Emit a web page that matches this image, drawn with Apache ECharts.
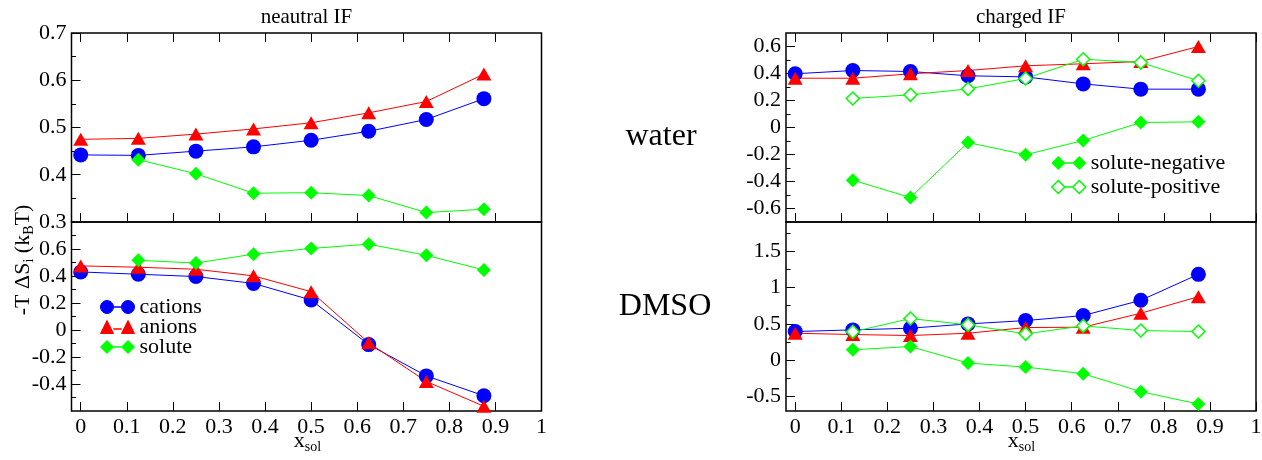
<!DOCTYPE html>
<html>
<head>
<meta charset="utf-8">
<script src="https://cdn.jsdelivr.net/npm/echarts@6/dist/echarts.min.js"></script>
<style>
html, body { margin: 0; padding: 0; background: #fff; }
#main { width: 1262px; height: 460px; }
</style>
</head>
<body>
<div id="main"></div>
<script>
// mole fraction of solute
var xSol = [0, 0.125, 0.25, 0.375, 0.5, 0.625, 0.75, 0.875];

// neutral IF, water
var nwCations = [0.442, 0.441, 0.450, 0.459, 0.473, 0.492, 0.517, 0.561];
var nwAnions  = [0.475, 0.477, 0.486, 0.497, 0.510, 0.531, 0.555, 0.613];
var nwSolute  = [null, 0.432, 0.402, 0.361, 0.362, 0.356, 0.320, 0.327];

// neutral IF, DMSO
var ndCations = [0.430, 0.413, 0.396, 0.345, 0.222, -0.108, -0.340, -0.487];
var ndAnions  = [0.475, 0.465, 0.450, 0.401, 0.284, -0.095, -0.381, -0.565];
var ndSolute  = [null, 0.516, 0.496, 0.562, 0.604, 0.636, 0.553, 0.445];

// charged IF, water
var cwCations = [0.398, 0.422, 0.415, 0.383, 0.375, 0.323, 0.284, 0.284];
var cwAnions  = [0.365, 0.365, 0.398, 0.422, 0.457, 0.472, 0.489, 0.600];
var cwNeg     = [null, -0.390, -0.519, -0.111, -0.202, -0.096, 0.037, 0.042];
var cwPos     = [null, 0.215, 0.242, 0.286, 0.363, 0.506, 0.481, 0.346];

// charged IF, DMSO
var cdCations = [0.393, 0.416, 0.439, 0.498, 0.544, 0.613, 0.823, 1.180];
var cdAnions  = [0.370, 0.352, 0.338, 0.370, 0.448, 0.453, 0.645, 0.873];
var cdNeg     = [null, 0.142, 0.187, -0.041, -0.096, -0.187, -0.434, -0.604];
var cdPos     = [null, 0.389, 0.572, 0.485, 0.361, 0.471, 0.407, 0.393];

// ticks
var xTicks = [0, 0.1, 0.2, 0.3, 0.4, 0.5, 0.6, 0.7, 0.8, 0.9, 1];
var tlMajor = [0.3, 0.4, 0.5, 0.6, 0.7];
var tlMinor = [0.35, 0.45, 0.55, 0.65];
var blMajor = [-0.4, -0.2, 0, 0.2, 0.4, 0.6];
var blMinor = [-0.5, -0.3, -0.1, 0.1, 0.3, 0.5, 0.7];
var trMajor = [-0.6, -0.4, -0.2, 0, 0.2, 0.4, 0.6];
var trMinor = [-0.5, -0.3, -0.1, 0.1, 0.3, 0.5];
var brMajor = [-0.5, 0, 0.5, 1, 1.5];
var brMinor = [-0.25, 0.25, 0.75, 1.25, 1.75];

var FONT = '"Liberation Serif", "Times New Roman", "DejaVu Serif", serif';
var BLUE = '#0000ff', RED = '#ff0000', GREEN = '#00ff00';

function fmt(v) { return String(+(+v).toFixed(2)); }

var grids = [
    {left: 71.5, top: 33, width: 470, height: 189},
    {left: 71.5, top: 222, width: 470, height: 189},
    {left: 786, top: 33, width: 470, height: 189},
    {left: 786, top: 222, width: 470, height: 189}
].map(function (g) {
    g.show = true;
    g.borderColor = '#000';
    g.borderWidth = 1.5;
    g.backgroundColor = 'transparent';
    g.outerBoundsMode = 'none';
    return g;
});

function xAxis(grid, pos, labels) {
    return {
        type: 'value', gridIndex: grid, position: pos, min: -0.02, max: 1,
        axisLine: {show: false, onZero: false},
        splitLine: {show: false},
        axisTick: {inside: true, length: 9, customValues: xTicks, lineStyle: {color: '#000', width: 1}},
        axisLabel: {show: labels, customValues: xTicks, formatter: fmt, margin: 5,
            fontFamily: FONT, fontSize: 22, color: '#000'}
    };
}
function yAxes(grid, min, max, major, minor) {
    return [{
        type: 'value', gridIndex: grid, position: 'left', min: min, max: max,
        axisLine: {show: false, onZero: false},
        splitLine: {show: false},
        axisTick: {inside: true, length: 9, customValues: major, lineStyle: {color: '#000', width: 1}},
        axisLabel: {customValues: major, formatter: fmt, margin: 5,
            fontFamily: FONT, fontSize: 22, color: '#000'}
    }, {
        type: 'value', gridIndex: grid, position: 'left', min: min, max: max,
        axisLine: {show: false, onZero: false},
        splitLine: {show: false},
        axisTick: {inside: true, length: 4.5, customValues: minor, lineStyle: {color: '#000', width: 1}},
        axisLabel: {show: false}
    }];
}

var xAxes = [
    xAxis(0, 'bottom', false), xAxis(0, 'top', false),
    xAxis(1, 'bottom', true),
    xAxis(2, 'bottom', false), xAxis(2, 'top', false),
    xAxis(3, 'bottom', true)
];
var xMain = [0, 2, 3, 5];
var yAx = [].concat(
    yAxes(0, 0.3, 0.7, tlMajor, tlMinor),
    yAxes(1, -0.6, 0.8, blMajor, blMinor),
    yAxes(2, -0.7, 0.7, trMajor, trMinor),
    yAxes(3, -0.7, 1.9, brMajor, brMinor)
);

function pts(ys) {
    return xSol.map(function (x, i) { return [x, ys[i]]; })
        .filter(function (p) { return p[1] !== null; });
}
function line(name, ys, g, sym, size, color, hollow) {
    return {
        name: name, type: 'line', xAxisIndex: xMain[g], yAxisIndex: 2 * g,
        data: pts(ys), symbol: sym, symbolSize: size, showAllSymbol: true,
        lineStyle: {color: color, width: 1},
        itemStyle: hollow ? {color: '#fff', borderColor: color, borderWidth: 1.5}
                          : {color: color, borderWidth: 0},
        emphasis: {disabled: true},
        animation: false
    };
}

var CIRC = 15, TRI = [15, 13], DIA = 14;
var series = [
    line('cations', nwCations, 0, 'circle', CIRC, BLUE),
    line('anions', nwAnions, 0, 'triangle', TRI, RED),
    line('solute', nwSolute, 0, 'diamond', DIA, GREEN),
    line('cations', ndCations, 1, 'circle', CIRC, BLUE),
    line('anions', ndAnions, 1, 'triangle', TRI, RED),
    line('solute', ndSolute, 1, 'diamond', DIA, GREEN),
    line('cations', cwCations, 2, 'circle', CIRC, BLUE),
    line('anions', cwAnions, 2, 'triangle', TRI, RED),
    line('solute-negative', cwNeg, 2, 'diamond', DIA, GREEN),
    line('solute-positive', cwPos, 2, 'diamond', 13, GREEN, true),
    line('cations', cdCations, 3, 'circle', CIRC, BLUE),
    line('anions', cdAnions, 3, 'triangle', TRI, RED),
    line('solute-negative', cdNeg, 3, 'diamond', DIA, GREEN),
    line('solute-positive', cdPos, 3, 'diamond', 13, GREEN, true)
];

// legend icons: two symbols joined by a short line
var circlePair = 'path://M0,6.5A6.5,6.5 0 1,1 13,6.5A6.5,6.5 0 1,1 0,6.5Z M13,6.4L21,6.4L21,6.6L13,6.6Z M21,6.5A6.5,6.5 0 1,1 34,6.5A6.5,6.5 0 1,1 21,6.5Z';
var trianglePair = 'path://M0,13L6.5,0L13,13Z M13,8.4L21,8.4L21,8.6L13,8.6Z M21,13L27.5,0L34,13Z';
var diamondPair = 'path://M0,6.5L6.5,0L13,6.5L6.5,13Z M13,6.4L21,6.4L21,6.6L13,6.6Z M21,6.5L27.5,0L34,6.5L27.5,13Z';

function legendItem(name, icon, color, hollow) {
    return {
        name: name, icon: icon,
        itemStyle: hollow ? {color: '#fff', borderColor: color, borderWidth: 1.5}
                          : {color: color, borderColor: color, borderWidth: 1}
    };
}
var legendText = {fontFamily: FONT, fontSize: 22, color: '#000'};

var option = {
    backgroundColor: '#fff',
    animation: false,
    grid: grids,
    xAxis: xAxes,
    yAxis: yAx,
    legend: [{
        left: 100, top: 296, orient: 'vertical', padding: 0,
        itemWidth: 34, itemHeight: 13, itemGap: -2, selectedMode: false,
        textStyle: legendText,
        data: [
            legendItem('cations', circlePair, BLUE),
            legendItem('anions', trianglePair, RED),
            legendItem('solute', diamondPair, GREEN)
        ]
    }, {
        left: 1051, top: 152, orient: 'vertical', padding: 0,
        itemWidth: 34, itemHeight: 13, itemGap: 2, selectedMode: false,
        textStyle: legendText,
        data: [
            legendItem('solute-negative', diamondPair, GREEN),
            legendItem('solute-positive', diamondPair, GREEN, true)
        ]
    }],
    graphic: [
        {type: 'text', x: 306.5, y: 17, style: {text: 'neautral IF', fontFamily: FONT, fontSize: 21, fill: '#000', align: 'center', verticalAlign: 'middle'}},
        {type: 'text', x: 1021, y: 17, style: {text: 'charged IF', fontFamily: FONT, fontSize: 21, fill: '#000', align: 'center', verticalAlign: 'middle'}},
        {type: 'text', x: 661, y: 137, style: {text: 'water', fontFamily: FONT, fontSize: 32, fill: '#000', align: 'center', verticalAlign: 'middle'}},
        {type: 'text', x: 665, y: 307, style: {text: 'DMSO', fontFamily: FONT, fontSize: 32, fill: '#000', align: 'center', verticalAlign: 'middle'}},
        {type: 'text', x: 23, y: 260, rotation: Math.PI / 2,
            style: {text: '-T ΔS{s|i} (k{s|B}T)', fontFamily: FONT, fontSize: 22, fill: '#000', align: 'center', verticalAlign: 'middle',
                rich: {s: {fontFamily: FONT, fontSize: 14, padding: [12, 0, 0, 0]}}}},
        {type: 'text', x: 307.5, y: 441, style: {text: 'x{s|sol}', fontFamily: FONT, fontSize: 22, fill: '#000', align: 'center', verticalAlign: 'middle',
            rich: {s: {fontFamily: FONT, fontSize: 14, padding: [12, 0, 0, 0]}}}},
        {type: 'text', x: 1021.5, y: 441, style: {text: 'x{s|sol}', fontFamily: FONT, fontSize: 22, fill: '#000', align: 'center', verticalAlign: 'middle',
            rich: {s: {fontFamily: FONT, fontSize: 14, padding: [12, 0, 0, 0]}}}}
    ],
    series: series
};

var chart = echarts.init(document.getElementById('main'));
chart.setOption(option);
</script>
</body>
</html>
